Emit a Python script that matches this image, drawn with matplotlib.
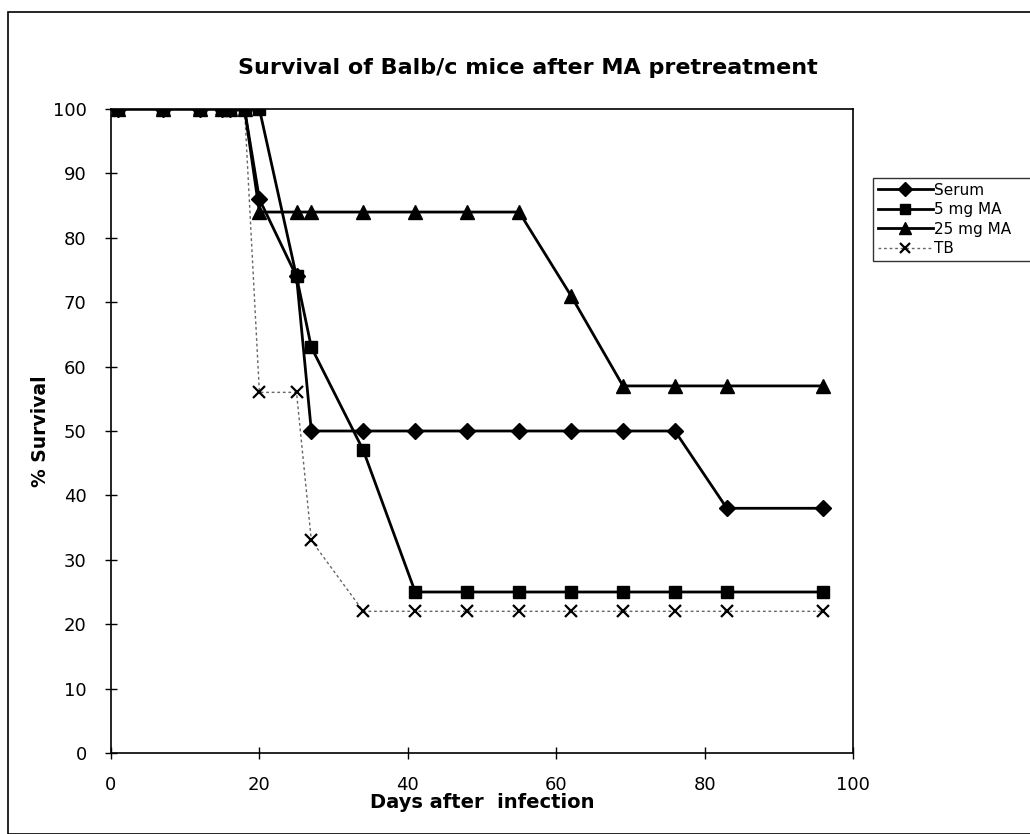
import numpy as np
import matplotlib.pyplot as plt
from matplotlib.patches import Rectangle

plt.rcParams['font.family'] = ['DejaVu Sans']

# days after infection and % survival per group
days = [1, 7, 12, 15, 16, 18, 20, 25, 27, 34, 41, 48, 55, 62, 69, 76, 83, 96]
serum = [100, 100, 100, 100, 100, 100, 86, 74, 50, 50, 50, 50, 50, 50, 50, 50, 38, 38]
ma5 = [100, 100, 100, 100, 100, 100, 100, 74, 63, 47, 25, 25, 25, 25, 25, 25, 25, 25]
ma25 = [100, 100, 100, 100, 100, 100, 84, 84, 84, 84, 84, 84, 84, 71, 57, 57, 57, 57]
tb = [100, 100, 100, 100, 100, 100, 56, 56, 33, 22, 22, 22, 22, 22, 22, 22, 22, 22]

W, H = 1030, 834
fig = plt.figure(figsize=(W / 100, H / 100), dpi=100)
ax = fig.add_axes([111 / W, 1 - 753 / H, (853 - 111) / W, (753 - 109) / H])

ax.plot(days, tb, color='#666666', lw=1, ls=(0, (2, 2)), marker='x', ms=9,
        mew=1.6, mec='black', label='TB', zorder=2)
ax.plot(days, serum, color='black', lw=2, marker='D', ms=8, label='Serum', zorder=3)
ax.plot(days, ma5, color='black', lw=2, marker='s', ms=9, label='5 mg MA', zorder=4)
ax.plot(days, ma25, color='black', lw=2, marker='^', ms=10, label='25 mg MA', zorder=3)

ax.set_xlim(0, 100)
ax.set_ylim(0, 100)
ax.set_xticks(np.arange(0, 101, 20))
ax.set_yticks(np.arange(0, 101, 10))
ax.tick_params(direction='inout', length=9, width=1, labelsize=13)
ax.tick_params(axis='y', pad=13)
ax.tick_params(axis='x', pad=12)
for s in ax.spines.values():
    s.set_linewidth(1.2)

ax.set_xlabel('Days after  infection', fontsize=14, fontweight='bold', labelpad=-1)
ax.set_ylabel('% Survival', fontsize=13.5, fontweight='bold', labelpad=2)
fig.text(528 / W, 1 - 68 / H, 'Survival of Balb/c mice after MA pretreatment',
         ha='center', va='center', fontsize=16, fontweight='bold')

handles, labels = ax.get_legend_handles_labels()
order = [1, 2, 3, 0]
leg = fig.legend([handles[i] for i in order], [labels[i] for i in order],
                 loc='upper left', mode='expand', borderaxespad=0,
                 bbox_to_anchor=(873 / W, 1 - 272 / H, 200 / W, 94 / H),
                 fontsize=11, frameon=True, fancybox=False, edgecolor='black',
                 handlelength=3.6, handletextpad=0.1, borderpad=0.3,
                 labelspacing=0.3, markerscale=0.85)
leg.get_frame().set_linewidth(1)

# chart area frame
fig.patches.append(Rectangle((8 / W, 0), 1.2, 1 - 12 / H, transform=fig.transFigure,
                             fill=False, edgecolor='black', lw=1.2))

fig.savefig('out.png', dpi=100)
